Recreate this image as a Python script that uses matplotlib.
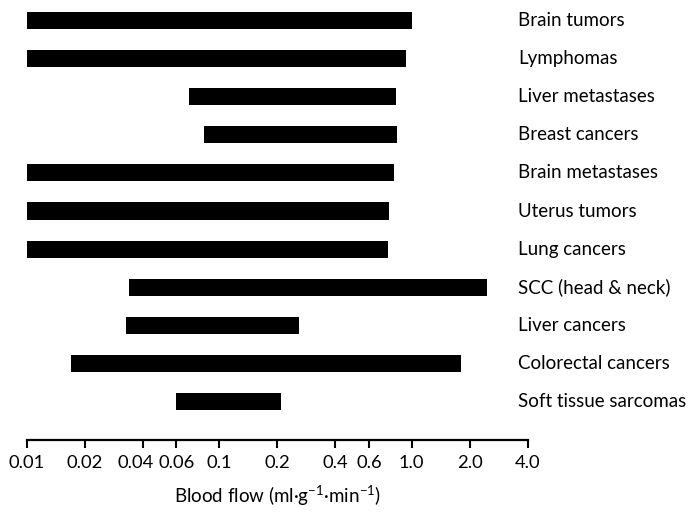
import matplotlib
matplotlib.use("Agg")
import matplotlib.pyplot as plt
import matplotlib.transforms as mtransforms
import numpy as np

plt.rcParams['font.family'] = ['Lato', 'DejaVu Sans']
plt.rcParams['mathtext.fontset'] = 'custom'
plt.rcParams['mathtext.rm'] = 'Lato'
plt.rcParams['mathtext.it'] = 'Lato'

# blood flow ranges per tumour type (ml/g/min)
tumors = ["Brain tumors", "Lymphomas", "Liver metastases", "Breast cancers",
          "Brain metastases", "Uterus tumors", "Lung cancers", "SCC (head & neck)",
          "Liver cancers", "Colorectal cancers", "Soft tissue sarcomas"]
flow_low = [0.01, 0.01, 0.07, 0.083, 0.01, 0.01, 0.01, 0.034, 0.033, 0.017, 0.060]
flow_high = [1.0, 0.93, 0.83, 0.84, 0.81, 0.76, 0.75, 2.47, 0.26, 1.81, 0.21]

tick_vals = [0.01, 0.02, 0.04, 0.06, 0.1, 0.2, 0.4, 0.6, 1.0, 2.0, 4.0]
tick_labels = ["0.01", "0.02", "0.04", "0.06", "0.1", "0.2", "0.4", "0.6", "1.0", "2.0", "4.0"]

fig = plt.figure(figsize=(6.93, 5.12), dpi=100)
ax = fig.add_axes([0.0385, 0.1406, 0.7228, 0.8594])

ypos = -np.arange(len(tumors))
lo = np.array(flow_low)
hi = np.array(flow_high)
ax.barh(ypos, hi - lo, left=lo, height=0.45, color="black")

ax.set_xscale("log")
ax.set_xlim(0.01, 4.0)
ax.set_ylim(-11.0, 0.53)
ax.set_xticks(tick_vals)
ax.set_xticklabels(tick_labels)
ax.minorticks_off()
ax.tick_params(axis="x", direction="out", length=6, width=1.5, pad=5, labelsize=13.2)
ax.set_yticks([])

# 0.04 and 0.06 sit close together, nudge 0.04 a bit to the left
for lbl in ax.get_xticklabels():
    if lbl.get_text() == "0.04":
        lbl.set_transform(lbl.get_transform() +
                          mtransforms.ScaledTranslation(-5 / 72, 0, fig.dpi_scale_trans))

for s in ["top", "left", "right"]:
    ax.spines[s].set_visible(False)
ax.spines["bottom"].set_linewidth(1.6)

trans = mtransforms.blended_transform_factory(ax.transAxes, ax.transData)
for y, name in zip(ypos, tumors):
    ax.text(0.981, y, name, transform=trans, ha="left", va="center", fontsize=13.5)

ax.set_xlabel("Blood flow (ml·g$^{-1}$·min$^{-1}$)", fontsize=13.5, labelpad=9)

fig.savefig("out.png", dpi=100)
